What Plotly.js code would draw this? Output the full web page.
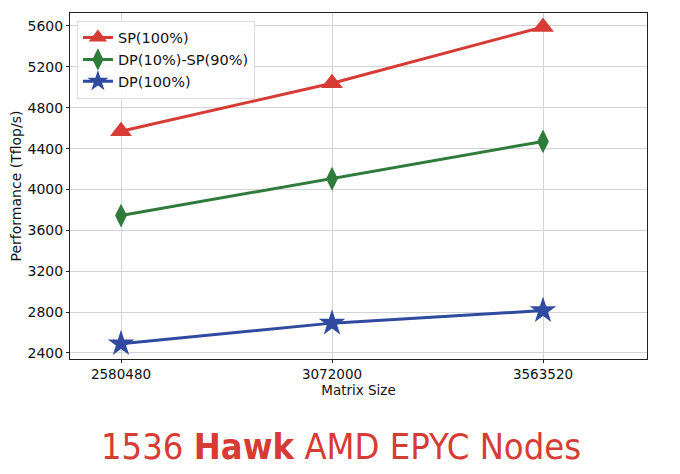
<!DOCTYPE html>
<html><head><meta charset="utf-8">
<script src="https://cdn.plot.ly/plotly-3.0.1.min.js"></script>
<style>html,body{margin:0;padding:0;background:#fff;}#c{width:680px;height:474px;}</style>
</head><body><div id="c"></div>
<script>
const matrixSizes = [2580480, 3072000, 3563520];
const tickLabels = ["2580480", "3072000", "3563520"];
const spValues = [4570, 5040, 5590];
const mixedValues = [3745, 4105, 4470];
const dpValues = [2490, 2692, 2815];
const yTicks = [2400, 2800, 3200, 3600, 4000, 4400, 4800, 5200, 5600];

const font = "DejaVu Sans, sans-serif";
function tr(name, y, color, symbol, size) {
  return {x: matrixSizes, y: y, name: name, type: "scatter", mode: "lines+markers",
    line: {color: color, width: 3},
    marker: {color: color, symbol: symbol, size: size, line: {width: 0}}};
}
const data = [
  tr("SP(100%)", spValues, "#d63b35", "triangle-up", 19),
  tr("DP(10%)-SP(90%)", mixedValues, "#2f7b3c", "diamond-tall", 17),
  tr("DP(100%)", dpValues, "#2f4a9e", "star", 20)
];
const layout = {
  width: 680, height: 474,
  margin: {l: 70, r: 33, t: 13, b: 115},
  paper_bgcolor: "#fff", plot_bgcolor: "#fff",
  font: {family: font, size: 14, color: "#111"},
  showlegend: true,
  legend: {x: 0.012, y: 0.978, xanchor: "left", yanchor: "top",
    bgcolor: "rgba(255,255,255,0.9)", bordercolor: "#ddd", borderwidth: 1,
    tracegroupgap: 1,
    font: {family: font, size: 14.5, color: "#111"}},
  xaxis: {range: [2461680, 3805790], tickvals: matrixSizes, ticktext: tickLabels,
    showgrid: true, gridcolor: "#d4d4d4", gridwidth: 1, zeroline: false,
    showline: true, linecolor: "#222", linewidth: 1, mirror: true,
    ticks: "outside", ticklen: 3, tickcolor: "#222",
    tickfont: {family: font, size: 13.5, color: "#111"},
    title: {text: "Matrix Size", font: {family: font, size: 13.5, color: "#111"}, standoff: 2}},
  yaxis: {range: [2341, 5727], tickvals: yTicks,
    showgrid: true, gridcolor: "#d4d4d4", gridwidth: 1, zeroline: false,
    showline: true, linecolor: "#222", linewidth: 1, mirror: true,
    ticks: "outside", ticklen: 3, tickcolor: "#222",
    tickfont: {family: font, size: 14, color: "#111"},
    title: {text: "Performance (Tflop/s)", font: {family: font, size: 14, color: "#111"}, standoff: 2}},
  annotations: [{
    xref: "paper", yref: "paper", x: 0.47, y: -0.254, xanchor: "center", yanchor: "middle",
    showarrow: false,
    text: "1536 <b>Hawk</b> AMD EPYC Nodes",
    font: {family: "DejaVu Sans Condensed, Roboto Condensed, sans-serif", size: 36, color: "#d63b35", weight: 300}
  }]
};
Plotly.newPlot("c", data, layout, {displayModeBar: false, staticPlot: true});
</script></body></html>
